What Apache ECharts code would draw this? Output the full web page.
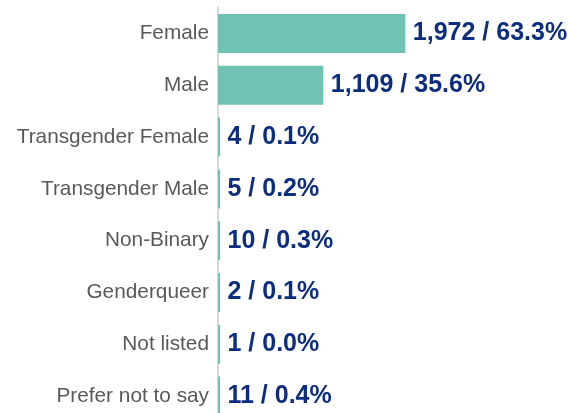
<!DOCTYPE html>
<html>
<head>
<meta charset="utf-8">
<script src="https://cdn.jsdelivr.net/npm/echarts@6/dist/echarts.min.js"></script>
<style>
  html, body { margin: 0; padding: 0; background: #fff; }
  #chart { width: 569px; height: 413px; }
</style>
</head>
<body>
<div id="chart"></div>
<script>
// gender breakdown
const categories = ['Female', 'Male', 'Transgender Female', 'Transgender Male', 'Non-Binary', 'Genderqueer', 'Not listed', 'Prefer not to say']
const counts = [1972, 1109, 4, 5, 10, 2, 1, 11]
const percents = ['63.3%', '35.6%', '0.1%', '0.2%', '0.3%', '0.1%', '0.0%', '0.4%']

const chart = echarts.init(document.getElementById('chart'))

const option = {
  animation: false,
  grid: {
    left: 218,
    top: 7.6,
    width: 190,
    height: 414.4,
    outerBoundsMode: 'none',
    containLabel: false
  },
  xAxis: {
    type: 'value',
    min: 0,
    max: 2000,
    show: false
  },
  yAxis: {
    type: 'category',
    inverse: true,
    data: categories,
    axisLine: { show: true, lineStyle: { color: '#d9d9d9', width: 2 } },
    axisTick: { show: false },
    axisLabel: {
      margin: 9,
      fontSize: 20.8,
      fontFamily: 'Liberation Sans, Arial, sans-serif',
      color: '#595959'
    }
  },
  series: [
    {
      type: 'bar',
      data: counts,
      barWidth: 39,
      barMinHeight: 2,
      itemStyle: { color: '#70c3b3' },
      label: {
        show: true,
        position: 'right',
        distance: 7.5,
        fontSize: 25,
        fontWeight: 'bold',
        fontFamily: 'Liberation Sans, Arial, sans-serif',
        color: '#0c2d80',
        formatter: (p) => p.value.toLocaleString('en-US') + ' / ' + percents[p.dataIndex]
      }
    }
  ]
}

chart.setOption(option)
</script>
</body>
</html>
